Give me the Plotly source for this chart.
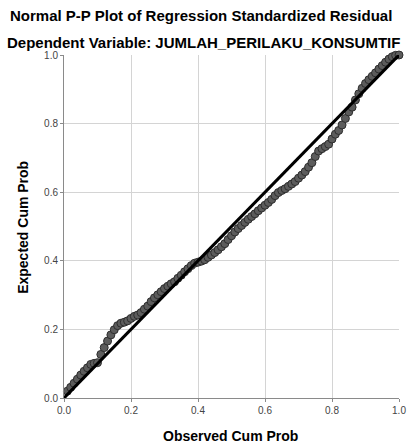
import plotly.graph_objects as go

observed_cum_prob = [
    0.01, 0.02, 0.03, 0.04, 0.05, 0.06, 0.07, 0.08, 0.09, 0.10,
    0.11, 0.12, 0.13, 0.14, 0.15, 0.16, 0.17, 0.18, 0.19, 0.20,
    0.21, 0.22, 0.23, 0.24, 0.25, 0.26, 0.27, 0.28, 0.29, 0.30,
    0.31, 0.32, 0.33, 0.34, 0.35, 0.36, 0.37, 0.38, 0.39, 0.40,
    0.41, 0.42, 0.43, 0.44, 0.45, 0.46, 0.47, 0.48, 0.49, 0.50,
    0.51, 0.52, 0.53, 0.54, 0.55, 0.56, 0.57, 0.58, 0.59, 0.60,
    0.61, 0.62, 0.63, 0.64, 0.65, 0.66, 0.67, 0.68, 0.69, 0.70,
    0.71, 0.72, 0.73, 0.74, 0.75, 0.76, 0.77, 0.78, 0.79, 0.80,
    0.81, 0.82, 0.83, 0.84, 0.85, 0.86, 0.87, 0.88, 0.89, 0.90,
    0.91, 0.92, 0.93, 0.94, 0.95, 0.96, 0.97, 0.98, 0.99, 1.00,
]
expected_cum_prob = [
    0.020, 0.031, 0.043, 0.055, 0.067, 0.078, 0.088, 0.098, 0.101, 0.103,
    0.127, 0.147, 0.166, 0.184, 0.199, 0.211, 0.218, 0.221, 0.225, 0.232,
    0.238, 0.242, 0.249, 0.259, 0.268, 0.281, 0.292, 0.301, 0.310, 0.319,
    0.326, 0.333, 0.339, 0.349, 0.358, 0.368, 0.377, 0.386, 0.393, 0.396,
    0.399, 0.403, 0.410, 0.417, 0.424, 0.432, 0.441, 0.450, 0.462, 0.473,
    0.484, 0.494, 0.503, 0.512, 0.521, 0.529, 0.537, 0.546, 0.554, 0.562,
    0.570, 0.579, 0.590, 0.599, 0.605, 0.610, 0.617, 0.624, 0.631, 0.641,
    0.650, 0.660, 0.673, 0.686, 0.704, 0.720, 0.727, 0.733, 0.740, 0.755,
    0.769, 0.780, 0.796, 0.815, 0.834, 0.848, 0.869, 0.887, 0.903, 0.917,
    0.928, 0.938, 0.948, 0.959, 0.969, 0.979, 0.988, 0.995, 0.999, 1.000,
]
diag = [0.0, 1.0]
tick_vals = [0.0, 0.2, 0.4, 0.6, 0.8, 1.0]
tick_text = ["0.0", "0.2", "0.4", "0.6", "0.8", "1.0"]

FONT = "Liberation Sans, Arial, sans-serif"
W, H = 410, 446
ML, MR, MT, MB = 64, 4, 55, 48
PW = W - ML - MR
PH = H - MT - MB


def px_x(px):
    return (px - ML) / PW


def px_y(py):
    return (H - MB - py) / PH


fig = go.Figure()
fig.add_trace(go.Scatter(
    x=observed_cum_prob, y=expected_cum_prob, mode="markers",
    marker=dict(size=8, color="#5c5c5c", line=dict(color="#2e2e2e", width=1)),
    showlegend=False, cliponaxis=False,
))
fig.add_trace(go.Scatter(
    x=diag, y=diag, mode="lines",
    line=dict(color="#000000", width=3), showlegend=False,
))

axis_common = dict(
    range=[0, 1], tickvals=tick_vals, ticktext=tick_text,
    showgrid=True, gridcolor="#d4d4d4", gridwidth=1,
    zeroline=False, showline=True, linecolor="#8a8a8a", linewidth=1,
    ticks="outside", ticklen=3, tickcolor="#8a8a8a",
    tickfont=dict(family=FONT, size=10, color="#444444"),
    ticklabeloverflow="allow",
    fixedrange=True,
)

fig.update_layout(
    width=W, height=H,
    margin=dict(l=ML, r=MR, t=MT, b=MB),
    paper_bgcolor="white", plot_bgcolor="white",
    xaxis=dict(axis_common),
    yaxis=dict(axis_common),
    annotations=[
        dict(text="<b>Normal P-P Plot of Regression Standardized Residual</b>",
             x=px_x(204), y=px_y(16), xref="paper", yref="paper", showarrow=False,
             xanchor="center", yanchor="middle",
             font=dict(family=FONT, size=15, color="#000000")),
        dict(text="<b>Dependent Variable: JUMLAH_PERILAKU_KONSUMTIF</b>",
             x=px_x(206), y=px_y(43), xref="paper", yref="paper", showarrow=False,
             xanchor="center", yanchor="middle",
             font=dict(family=FONT, size=15, color="#000000")),
        dict(text="<b>Observed Cum Prob</b>",
             x=px_x(234), y=px_y(436), xref="paper", yref="paper", showarrow=False,
             xanchor="center", yanchor="middle",
             font=dict(family=FONT, size=14, color="#000000")),
        dict(text="<b>Expected Cum Prob</b>", textangle=-90,
             x=px_x(22), y=px_y(227), xref="paper", yref="paper", showarrow=False,
             xanchor="center", yanchor="middle",
             font=dict(family=FONT, size=14, color="#000000")),
    ],
)

fig.write_html("out.html", config={"displayModeBar": False},
               post_script="document.body.style.margin='0';")
